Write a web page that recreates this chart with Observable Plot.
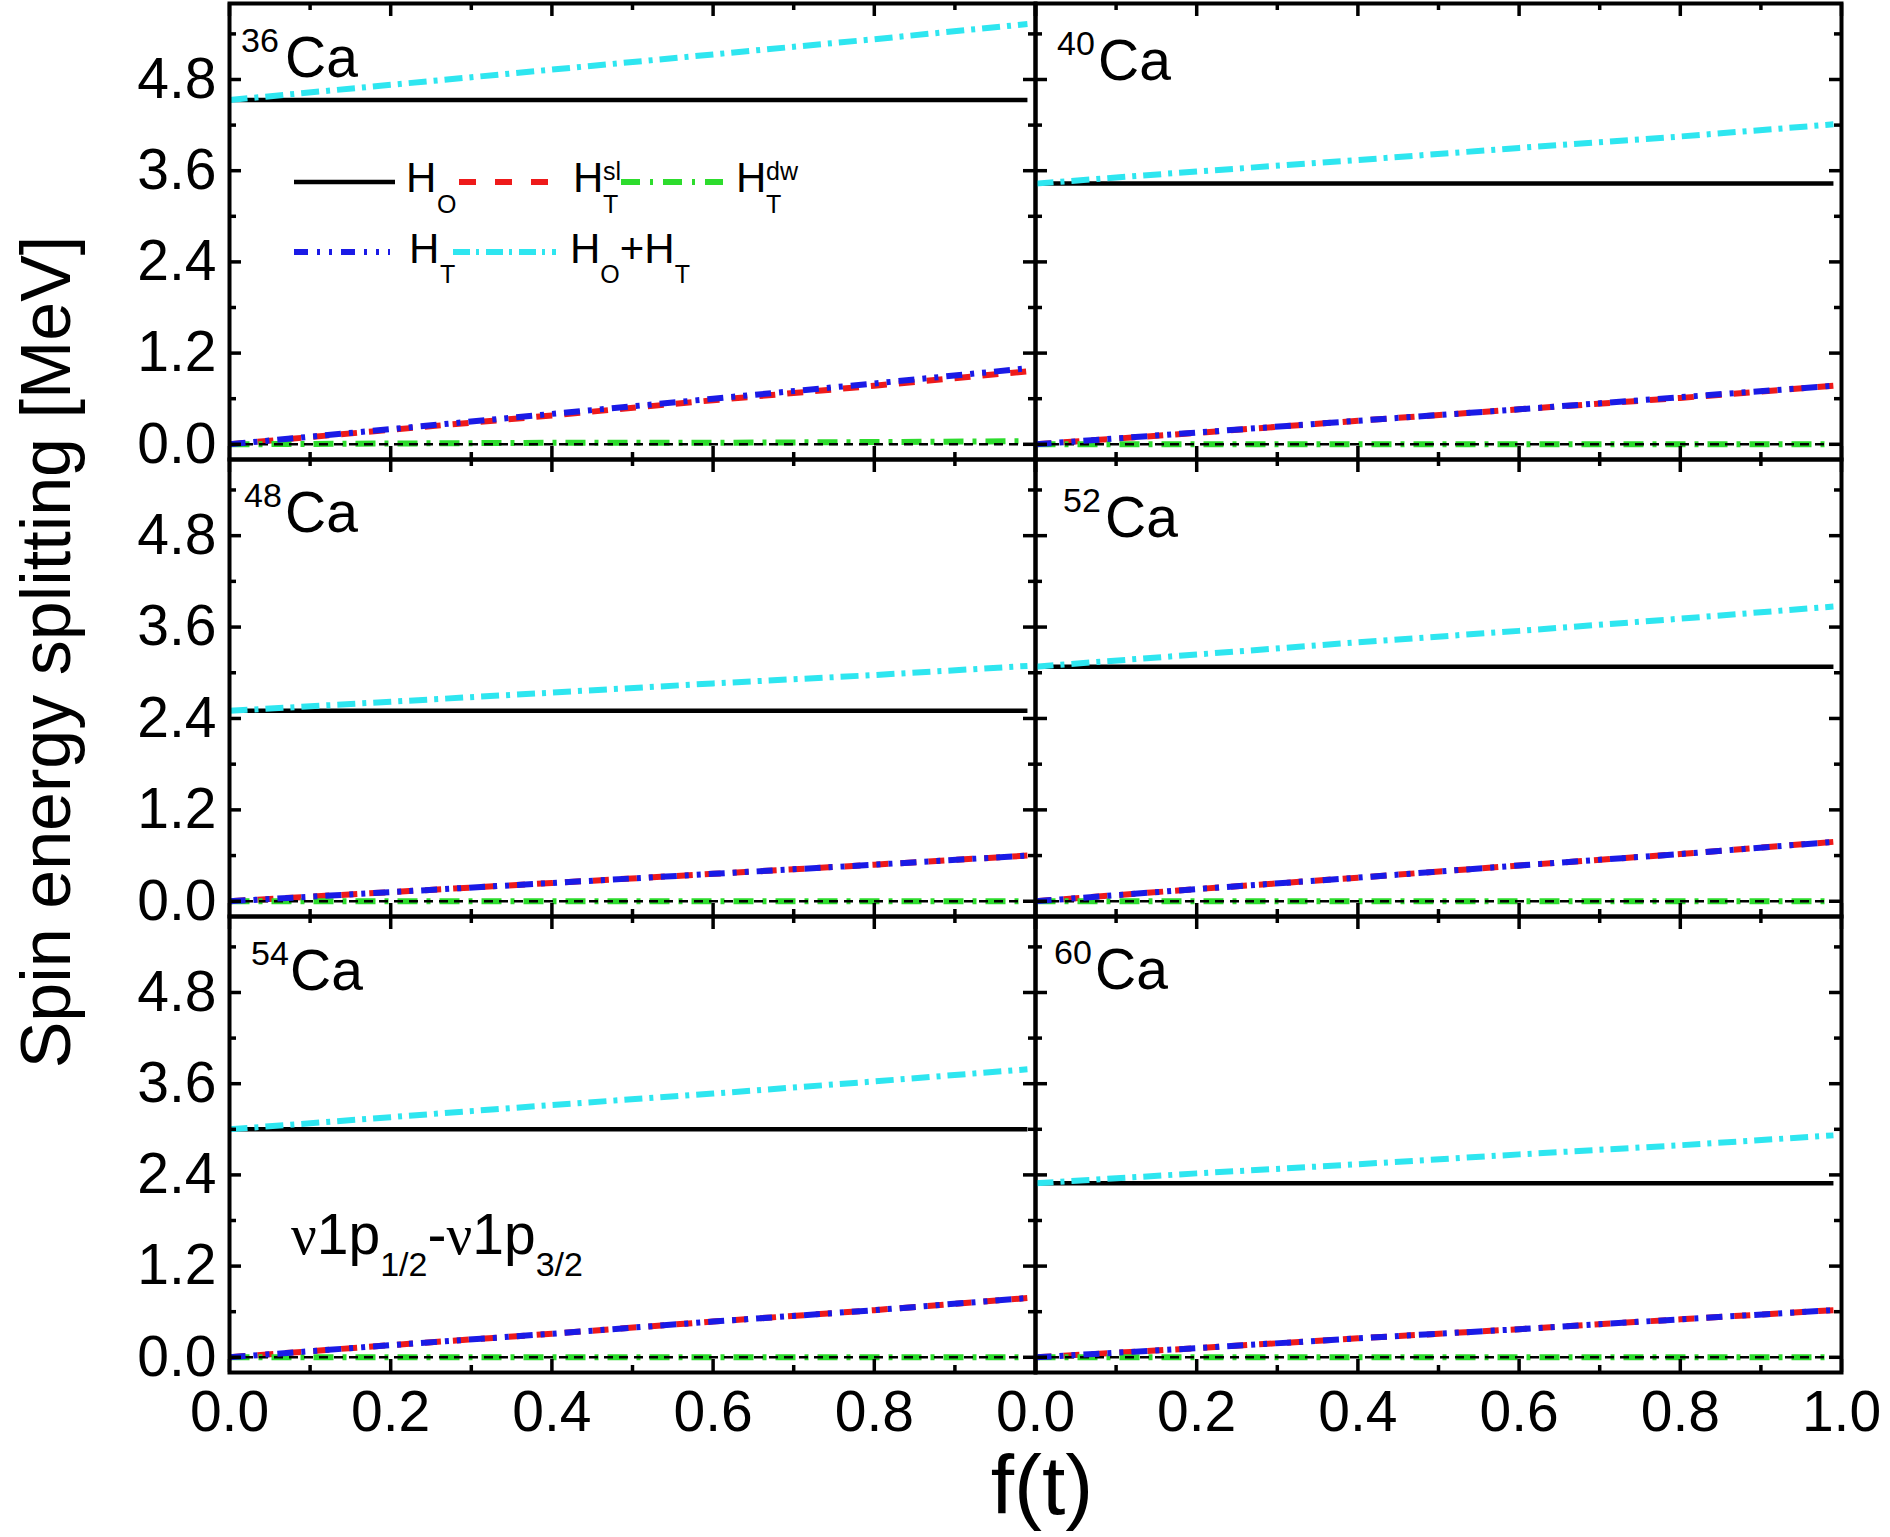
<!DOCTYPE html>
<html><head><meta charset="utf-8">
<script src="https://cdn.jsdelivr.net/npm/d3@7"></script>
<script src="https://cdn.jsdelivr.net/npm/@observablehq/plot@0.6"></script>
<style>
html,body{margin:0;padding:0;background:#fff;}
#wrap{position:relative;width:1890px;height:1537px;overflow:hidden;font-family:"Liberation Sans",Arial,sans-serif;background:#fff;}
#wrap > svg{position:absolute;}
</style></head><body><div id="wrap"></div>
<script>
// ---------------- data ----------------
const nuclei = ["36", "40", "48", "52", "54", "60"];
const fValues = [0, 0.2, 0.4, 0.6, 0.8, 0.99];
const yMajorTicks = [0, 1.2, 2.4, 3.6, 4.8];
const yMinorTicks = [0.6, 1.8, 3.0, 4.2, 5.4];
const xMajorTicks = [0, 0.2, 0.4, 0.6, 0.8, 1.0];
const xMinorTicks = [0.1, 0.3, 0.5, 0.7, 0.9];
const xLabelsLeft = [0, 0.2, 0.4, 0.6, 0.8];
const xLabelsRight = [0, 0.2, 0.4, 0.6, 0.8, 1.0];

// H_O (black, solid)
const H_O = [
  [4.53, 4.53, 4.53, 4.53, 4.53, 4.53],
  [3.43, 3.43, 3.43, 3.43, 3.43, 3.43],
  [2.50, 2.50, 2.50, 2.50, 2.50, 2.50],
  [3.08, 3.08, 3.08, 3.08, 3.08, 3.08],
  [3.00, 3.00, 3.00, 3.00, 3.00, 3.00],
  [2.29, 2.29, 2.29, 2.29, 2.29, 2.29]
];
// H_T^sl (red, dashed)
const H_T_sl = [
  [0, 0.19, 0.38, 0.58, 0.77, 0.96],
  [0, 0.15, 0.31, 0.46, 0.61, 0.77],
  [0, 0.12, 0.24, 0.36, 0.48, 0.60],
  [0, 0.16, 0.31, 0.47, 0.62, 0.78],
  [0, 0.16, 0.31, 0.47, 0.62, 0.78],
  [0, 0.12, 0.25, 0.37, 0.50, 0.62]
];
// H_T^dw (green, dash-dot)
const H_T_dw = [
  [0, 0.01, 0.02, 0.02, 0.03, 0.04],
  [0, 0.00, 0.00, 0.00, 0.00, 0.00],
  [0, 0.00, 0.00, 0.00, 0.00, 0.00],
  [0, 0.00, 0.00, 0.00, 0.00, 0.00],
  [0, 0.00, 0.00, 0.00, 0.00, 0.00],
  [0, 0.00, 0.00, 0.00, 0.00, 0.00]
];
// H_T (blue, dash-dot-dot)
const H_T = [
  [0, 0.20, 0.40, 0.60, 0.80, 1.00],
  [0, 0.155, 0.31, 0.46, 0.62, 0.77],
  [0, 0.12, 0.24, 0.36, 0.48, 0.60],
  [0, 0.16, 0.31, 0.47, 0.62, 0.78],
  [0, 0.16, 0.31, 0.47, 0.62, 0.78],
  [0, 0.12, 0.25, 0.37, 0.50, 0.62]
];
// H_O + H_T (cyan, dash-dot)
const H_O_plus_H_T = [
  [4.53, 4.73, 4.93, 5.13, 5.33, 5.53],
  [3.43, 3.59, 3.74, 3.90, 4.05, 4.21],
  [2.50, 2.62, 2.74, 2.86, 2.97, 3.09],
  [3.08, 3.24, 3.40, 3.55, 3.71, 3.87],
  [3.00, 3.16, 3.32, 3.47, 3.63, 3.79],
  [2.29, 2.42, 2.54, 2.67, 2.79, 2.92]
];

// ---------------- styles ----------------
const seriesStyle = [
  {name: "HO",   values: H_O,          stroke: "#000000", width: 4.5, dash: null},
  {name: "HTsl", values: H_T_sl,       stroke: "#ee1a1a", width: 6,   dash: "16,12"},
  {name: "HTdw", values: H_T_dw,       stroke: "#2ddc2d", width: 6,   dash: "20,9,4,9"},
  {name: "zero", values: null},
  {name: "HT",   values: H_T,          stroke: "#1a1ae6", width: 6,   dash: "16,8,4,8,4,8"},
  {name: "HOHT", values: H_O_plus_H_T, stroke: "#2ee6f0", width: 6,   dash: "18,7,4,7"}
];

// ---------------- layout ----------------
const colLeft = [229, 1035];
const colWidth = [806, 806];
const rowTop = [3, 459, 916];
const rowHeight = [456, 457, 456];
const M = 60;
const FONT = "'Liberation Sans', Arial, Helvetica, sans-serif";

const wrap = document.getElementById("wrap");

nuclei.forEach((nuc, i) => {
  const r = Math.floor(i / 2), c = i % 2;
  const W = colWidth[c], H = rowHeight[r];
  const marks = [];
  seriesStyle.forEach(s => {
    if (s.name === "zero") {
      marks.push(Plot.ruleY([0], {stroke: "#000", strokeWidth: 2.4, strokeDasharray: "9,6"}));
      return;
    }
    const data = fValues.map((f, j) => ({f, v: s.values[i][j]}));
    marks.push(Plot.line(data, {x: "f", y: "v", stroke: s.stroke, strokeWidth: s.width,
      strokeDasharray: s.dash, strokeLinecap: "butt"}));
  });
  const tk = {stroke: "#000", strokeWidth: 3.5};
  // inward ticks on all four sides
  marks.push(Plot.tickY(yMajorTicks, {y: d => d, ...tk, insetRight: W - 12}));
  marks.push(Plot.tickY(yMinorTicks, {y: d => d, ...tk, insetRight: W - 7}));
  marks.push(Plot.tickY(yMajorTicks, {y: d => d, ...tk, insetLeft: W - 12}));
  marks.push(Plot.tickY(yMinorTicks, {y: d => d, ...tk, insetLeft: W - 7}));
  marks.push(Plot.tickX(xMajorTicks, {x: d => d, ...tk, insetBottom: H - 13}));
  marks.push(Plot.tickX(xMinorTicks, {x: d => d, ...tk, insetBottom: H - 7}));
  marks.push(Plot.tickX(xMajorTicks, {x: d => d, ...tk, insetTop: H - 13}));
  marks.push(Plot.tickX(xMinorTicks, {x: d => d, ...tk, insetTop: H - 7}));
  marks.push(Plot.frame({stroke: "#000", strokeWidth: 4}));
  if (c === 0) {
    marks.push(Plot.axisY(yMajorTicks, {anchor: "left", tickSize: 0, tickPadding: 13,
      fontSize: 57, tickFormat: d3.format(".1f"), label: null}));
  }
  if (r === 2) {
    marks.push(Plot.axisX(c === 0 ? xLabelsLeft : xLabelsRight, {anchor: "bottom", tickSize: 0,
      tickPadding: 18, fontSize: 57, tickFormat: d3.format(".1f"), label: null}));
  }
  const chart = Plot.plot({
    width: W + 2 * M, height: H + 2 * M,
    marginLeft: M, marginRight: M, marginTop: M, marginBottom: M,
    x: {domain: [0, 1], axis: null},
    y: {domain: [-0.2, 5.8], axis: null},
    style: {background: "transparent", overflow: "visible", fontFamily: FONT, color: "#000"},
    marks
  });
  chart.style.left = (colLeft[c] - M) + "px";
  chart.style.top = (rowTop[r] - M) + "px";
  chart.style.position = "absolute";
  wrap.appendChild(chart);
});

// ---------------- text overlay (labels, legend) ----------------
const labelOffsets = [[12, 56, 49, 74], [22, 63, 52, 77], [15, 56, 48, 73], [28, 70, 53, 78], [22, 61, 49, 74], [19, 60, 48, 73]];
let t = "";
nuclei.forEach((nuc, i) => {
  const r = Math.floor(i / 2), c = i % 2;
  const x0 = colLeft[c], y0 = rowTop[r];
  const o = labelOffsets[i];
  t += `<text x="${x0 + o[0]}" y="${y0 + o[2]}" font-size="34">${nuc}</text>`;
  t += `<text x="${x0 + o[1]}" y="${y0 + o[3]}" font-size="57">Ca</text>`;
});
// legend
const lg = (x1, x2, y, s) => `<line x1="${x1}" x2="${x2}" y1="${y}" y2="${y}" stroke="${s.stroke}" stroke-width="${s.width}" ${s.dash ? `stroke-dasharray="${s.dash}"` : ""}/>`;
t += lg(294, 395, 182, {stroke: "#000", width: 4.5, dash: null});
t += `<text x="406" y="192" font-size="42">H</text><text x="437" y="213" font-size="25">O</text>`;
t += lg(459, 549, 182, {stroke: "#ee1a1a", width: 6, dash: "17,19"});
t += `<text x="573" y="192" font-size="42">H</text><text x="603" y="180" font-size="25">sl</text><text x="603" y="213" font-size="25">T</text>`;
t += lg(621, 723, 182, {stroke: "#2ddc2d", width: 6, dash: "19,10,3,10"});
t += `<text x="736" y="192" font-size="42">H</text><text x="766" y="180" font-size="25">dw</text><text x="766" y="213" font-size="25">T</text>`;
t += lg(294, 390, 252, {stroke: "#1a1ae6", width: 6, dash: "14,9,3,9,3,9"});
t += `<text x="409" y="263" font-size="42">H</text><text x="440" y="283" font-size="25">T</text>`;
t += lg(453, 556, 252, {stroke: "#2ee6f0", width: 6, dash: "17,6,3,7"});
t += `<text x="570" y="263" font-size="42">H<tspan font-size="25" dy="20">O</tspan><tspan dy="-20">+H</tspan><tspan font-size="25" dy="20">T</tspan></text>`;
// orbital annotation
t += `<text x="291" y="1254" font-size="57"><tspan font-family="'Liberation Serif', serif">ν</tspan>1p<tspan font-size="34" dy="22">1/2</tspan><tspan dy="-22">-</tspan><tspan font-family="'Liberation Serif', serif">ν</tspan>1p<tspan font-size="34" dy="22">3/2</tspan></text>`;
// axis titles
t += `<text transform="translate(70,652) rotate(-90)" text-anchor="middle" font-size="70">Spin energy splitting [MeV]</text>`;
t += `<text x="1042" y="1514" text-anchor="middle" font-size="84">f(t)</text>`;

const ov = document.createElementNS("http://www.w3.org/2000/svg", "svg");
ov.setAttribute("width", 1890);
ov.setAttribute("height", 1537);
ov.setAttribute("font-family", FONT);
ov.setAttribute("fill", "#000");
ov.style.left = "0px"; ov.style.top = "0px"; ov.style.pointerEvents = "none";
ov.innerHTML = t;
wrap.appendChild(ov);
</script>
</body></html>
